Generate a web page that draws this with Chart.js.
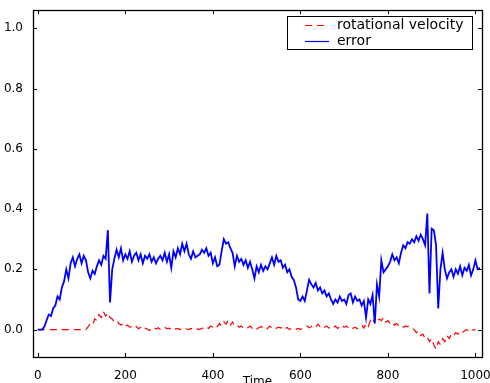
<!DOCTYPE html>
<html>
<head>
<meta charset="utf-8">
<script src="https://cdn.jsdelivr.net/npm/chart.js@4"></script>
<style>
  html, body { margin: 0; padding: 0; background: #fff; }
</style>
</head>
<body>
<canvas id="myChart" width="490" height="383"></canvas>
<script>
// samples every 5 time units
const timeStep = 5;

const errorValues = [
  0, 0, 0, 0.01, 0.03, 0.05, 0.045, 0.07, 0.08, 0.11, 0.10, 0.14, 0.16, 0.20, 0.17, 0.22, 0.24, 0.21, 0.235, 0.25,
  0.22, 0.245, 0.23, 0.19, 0.17, 0.195, 0.185, 0.21, 0.23, 0.215,
  0.245, 0.235, 0.33, 0.09, 0.20, 0.235, 0.265, 0.24, 0.27, 0.23,
  0.25, 0.235, 0.26, 0.225, 0.245, 0.255, 0.23, 0.25, 0.22, 0.245,
  0.235, 0.25, 0.225, 0.24, 0.22, 0.235, 0.245, 0.23, 0.255, 0.225,
  0.25, 0.205, 0.26, 0.24, 0.27, 0.25, 0.285, 0.26, 0.285, 0.25,
  0.235, 0.26, 0.24, 0.245, 0.25, 0.265, 0.255, 0.27, 0.245, 0.255,
  0.22, 0.24, 0.21, 0.215, 0.26, 0.30, 0.285, 0.29, 0.27, 0.255,
  0.21, 0.245, 0.225, 0.235, 0.215, 0.23, 0.205, 0.225, 0.20, 0.17,
  0.21, 0.19, 0.215, 0.195, 0.21, 0.20, 0.22, 0.24, 0.215, 0.245,
  0.225, 0.23, 0.205, 0.215, 0.19, 0.20, 0.175, 0.165, 0.14, 0.10,
  0.095, 0.11, 0.095, 0.13, 0.165, 0.15, 0.14, 0.155, 0.13, 0.14,
  0.12, 0.13, 0.11, 0.12, 0.10, 0.085, 0.10, 0.09, 0.11, 0.095,
  0.10, 0.085, 0.115, 0.12, 0.09, 0.11, 0.095, 0.10, 0.08, 0.095,
  0.04, 0.10, 0.085, 0.115, 0.02, 0.15, 0.11, 0.23, 0.19, 0.20,
  0.21, 0.225, 0.25, 0.23, 0.24, 0.22, 0.255, 0.28, 0.27, 0.29,
  0.285, 0.30, 0.29, 0.31, 0.295, 0.315, 0.30, 0.28, 0.385, 0.12,
  0.335, 0.33, 0.28, 0.07, 0.20, 0.255, 0.20, 0.17, 0.19, 0.20,
  0.175, 0.20, 0.185, 0.21, 0.18, 0.205, 0.195, 0.215, 0.18, 0.20,
  0.23, 0.20, 0.205
];

const rotVelValues = [
  0, 0, 0, 0, 0, 0, 0, 0, 0, 0, 0, 0, 0, 0, 0, 0, 0, 0, 0, 0, 0, 0, 0,
  0.01, 0.02, 0.015, 0.035, 0.03, 0.05, 0.04,
  0.06, 0.045, 0.055, 0.04, 0.035, 0.025, 0.03, 0.02, 0.015, 0.02,
  0.01, 0.015, 0.008, 0.01, 0.005, 0.01, 0.003, 0.008, 0.0, 0.005,
  0.002, -0.003, 0.003, 0.008, 0.002, 0.006, 0.0, 0.004, 0.008, 0.003,
  0.005, 0.0, 0.006, 0.002, 0.004, 0.0, 0.003, 0.006, 0.002, 0.0,
  0.004, 0.001, -0.002, 0.002, 0.0, 0.005, 0.003, 0.008, 0.004, 0.012,
  0.008, 0.015, 0.01, 0.02, 0.012, 0.025, 0.018, 0.03, 0.015, 0.025,
  0.012, 0.015, 0.008, 0.012, 0.005, 0.01, 0.006, 0.012, 0.004, 0.008,
  0.002, 0.006, 0.01, 0.004, 0.008, 0.003, 0.012, 0.006, 0.01, 0.004,
  0.008, 0.005, 0.01, 0.003, 0.007, 0.0, 0.004, 0.006, 0.001, 0.004,
  0.0, 0.005, 0.008, 0.012, 0.006, 0.01, 0.015, 0.008, 0.018, 0.01,
  0.015, 0.008, 0.012, 0.005, 0.01, 0.006, 0.012, 0.004, 0.01, 0.015,
  0.008, 0.012, 0.005, 0.01, 0.004, 0.008, 0.003, 0.01, 0.015, 0.005,
  0.02, 0.01, 0.03, 0.02, 0.04, 0.025, 0.035, 0.03, 0.04, 0.025,
  0.03, 0.02, 0.025, 0.015, 0.02, 0.012, 0.015, 0.008, 0.012, 0.01,
  0.012, 0.005, 0.0, -0.01, -0.005, -0.02, -0.015, -0.03, -0.025, -0.04,
  -0.03, -0.05, -0.065, -0.04, -0.05, -0.03, -0.04, -0.02, -0.03, -0.015,
  -0.02, -0.01, -0.015, -0.005, -0.01, -0.005, 0.0, -0.005, 0.002, -0.002,
  0.0
];

const seriesNames = ["rotational velocity", "error"];
const seriesColors = ["#ff0000", "#0000ff"];
const seriesDash = [[7, 5], []];
const xTicks = [0, 200, 400, 600, 800, 1000];
const yTicks = [0.0, 0.2, 0.4, 0.6, 0.8, 1.0];

function toPoints(values) {
  return values.map((v, i) => ({ x: i * timeStep, y: v }));
}

Chart.defaults.font.family = "'DejaVu Sans', sans-serif";
Chart.defaults.font.size = 12;
Chart.defaults.color = "#000";

// frame, inward ticks and the boxed legend (matplotlib look)
const mplFrame = {
  id: "mplFrame",
  afterDatasetsDraw(chart) {
    const { ctx, chartArea: a, scales } = chart;
    const x = scales.x, y = scales.y;
    ctx.save();
    ctx.strokeStyle = "#000";
    ctx.lineWidth = 1;
    ctx.beginPath();
    xTicks.forEach((v) => {
      const px = Math.round(x.getPixelForValue(v)) + 0.5;
      ctx.moveTo(px, a.bottom); ctx.lineTo(px, a.bottom - 4);
      ctx.moveTo(px, a.top); ctx.lineTo(px, a.top + 4);
    });
    yTicks.forEach((v) => {
      const py = Math.round(y.getPixelForValue(v)) + 0.5;
      ctx.moveTo(a.left, py); ctx.lineTo(a.left + 4, py);
      ctx.moveTo(a.right, py); ctx.lineTo(a.right - 4, py);
    });
    ctx.stroke();

    ctx.lineWidth = 1.3;
    ctx.strokeRect(Math.round(a.left) + 0.5, Math.round(a.top) + 0.5,
      Math.round(a.right - a.left), Math.round(a.bottom - a.top));

    // legend box
    const bx = 287.5, by = 16.5, bw = 185, bh = 33;
    ctx.fillStyle = "#fff";
    ctx.fillRect(bx, by, bw, bh);
    ctx.lineWidth = 1;
    ctx.strokeStyle = "#000";
    ctx.strokeRect(bx, by, bw, bh);

    seriesNames.forEach((name, i) => {
      const ly = 25.5 + i * 16;
      ctx.beginPath();
      ctx.strokeStyle = seriesColors[i];
      ctx.lineWidth = 1.2;
      ctx.setLineDash(seriesDash[i]);
      ctx.moveTo(305, ly);
      ctx.lineTo(329, ly);
      ctx.stroke();
      ctx.setLineDash([]);
      ctx.fillStyle = "#000";
      ctx.font = "14px 'DejaVu Sans', sans-serif";
      ctx.textBaseline = "middle";
      ctx.fillText(name, 337, ly);
    });
    ctx.restore();
  }
};

new Chart(document.getElementById("myChart"), {
  type: "line",
  data: {
    datasets: [
      {
        label: seriesNames[0],
        data: toPoints(rotVelValues),
        borderColor: seriesColors[0],
        borderWidth: 1.2,
        borderDash: seriesDash[0],
        pointRadius: 0,
        tension: 0,
        order: 1
      },
      {
        label: seriesNames[1],
        data: toPoints(errorValues),
        borderColor: seriesColors[1],
        borderWidth: 1.8,
        pointRadius: 0,
        tension: 0,
        order: 0
      }
    ]
  },
  options: {
    responsive: false,
    animation: false,
    layout: { padding: { top: 10, right: 8, left: 0, bottom: 0 } },
    plugins: { legend: { display: false }, tooltip: { enabled: false } },
    scales: {
      x: {
        type: "linear",
        min: -11,
        max: 1015,
        grid: { display: false },
        border: { display: false },
        ticks: { padding: 4, callback: (v) => String(v) },
        title: { display: true, text: "Time", padding: { top: 0, bottom: -6 } },
        afterBuildTicks: (s) => { s.ticks = xTicks.map((v) => ({ value: v })); },
        afterFit: (s) => { s.height = 26; s.paddingLeft = 0; s.paddingRight = 0; }
      },
      y: {
        min: -0.091,
        max: 1.061,
        grid: { display: false },
        border: { display: false },
        ticks: { padding: 2, callback: (v) => v.toFixed(1) },
        afterBuildTicks: (s) => { s.ticks = yTicks.map((v) => ({ value: v })); },
        afterFit: (s) => { s.width = 33; s.paddingTop = 0; s.paddingBottom = 0; }
      }
    }
  },
  plugins: [mplFrame]
});
</script>
</body>
</html>
